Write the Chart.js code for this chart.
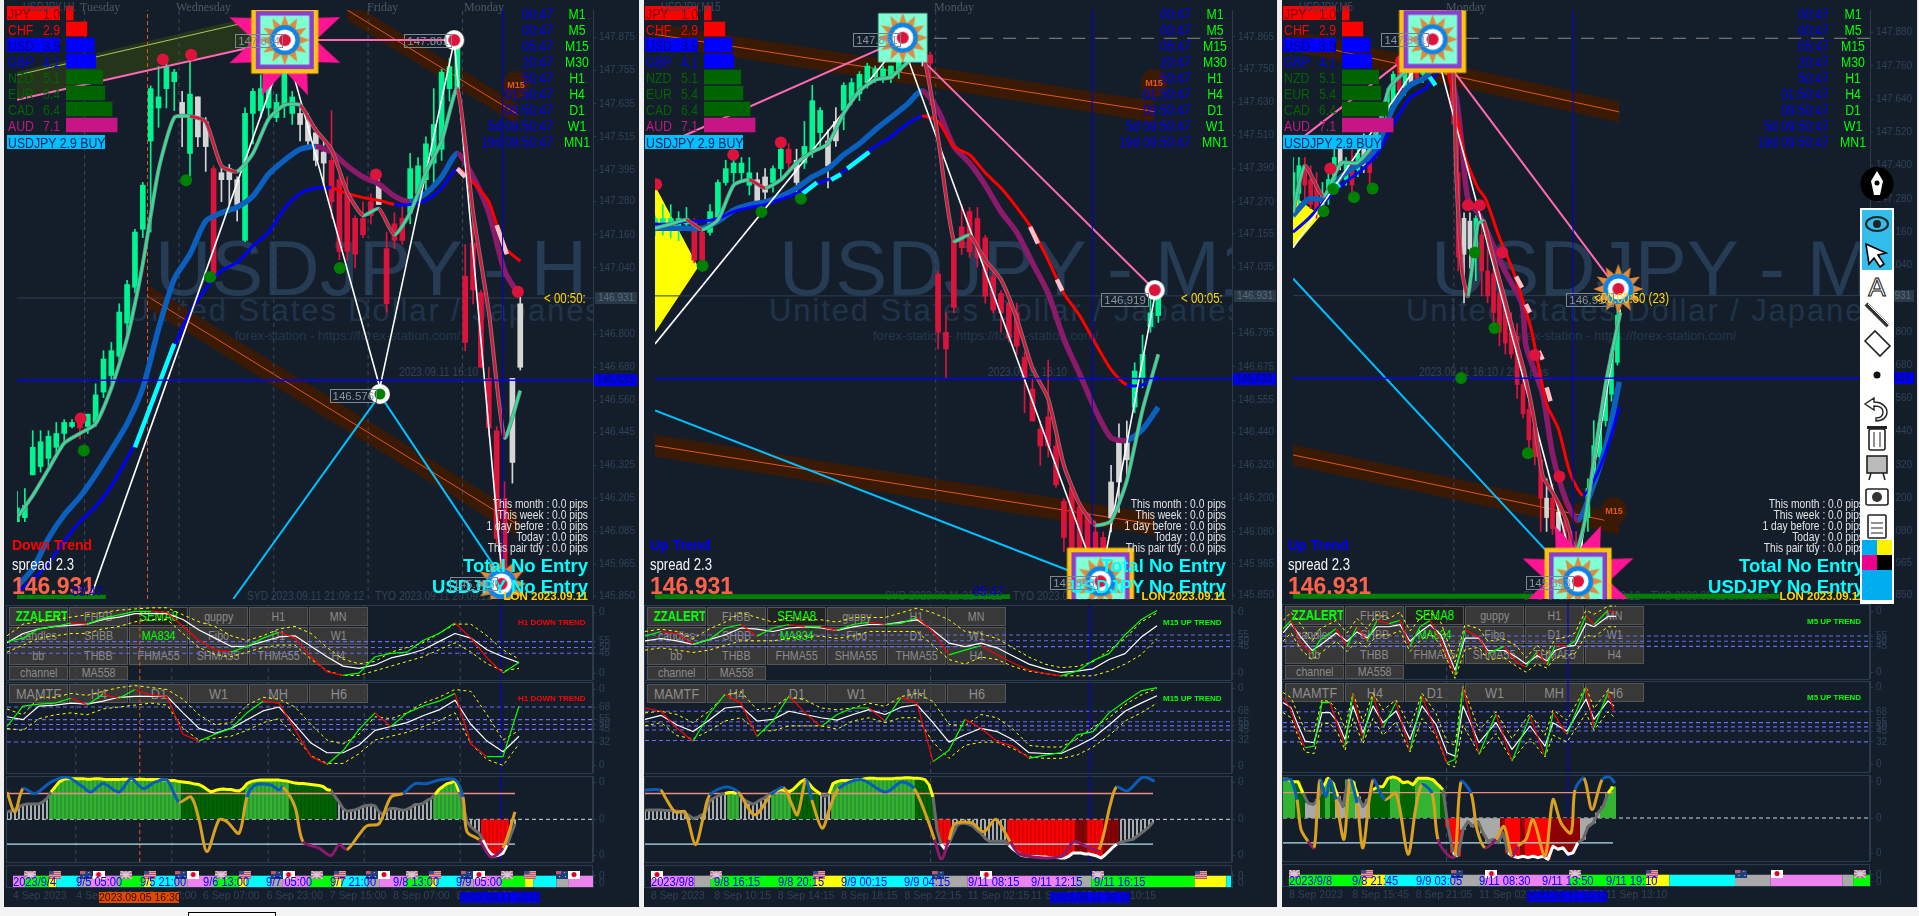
<!DOCTYPE html>
<html><head><meta charset="utf-8">
<style>
html,body{margin:0;padding:0;background:#f0f0f0;overflow:hidden}
#page{position:absolute;left:0;top:0;width:1919px;height:916px;overflow:hidden;font-family:"Liberation Sans",Arial,sans-serif;background:#f0f0f0}
.win{position:absolute;background:#141e2b;top:0;height:907px}
.abs{position:absolute;white-space:nowrap}
canvas{position:absolute}
.btn{position:absolute;box-sizing:border-box;background:#383838;border:1px solid #555;color:#8c8c8c;text-align:center;overflow:hidden;white-space:nowrap}
.btn span{display:inline-block;transform:scaleX(.82)}
.panel{position:absolute;box-sizing:border-box;border:1px solid #2a3b4e}
</style></head><body><div id="page"></div>
<script src="https://cdn.jsdelivr.net/npm/chart.js@4"></script>
<script>
// ---------- shared value lists ----------
const currencies=['JPY','CHF','USD','GBP','NZD','EUR','CAD','AUD'];
const strengths=[1.0,2.9,3.9,4.1,5.1,5.4,6.4,7.1];
const timerLabels=['M1','M5','M15','M30','H1','H4','D1','W1','MN1'];
const timerValues=['00:47','00:47','05:47','20:47','50:47','01:50:47','09:50:47','5d 09:50:47','19d 09:50:47'];
const statLines=['This month : 0.0 pips','This week : 0.0 pips','1 day before : 0.0 pips','Today : 0.0 pips','This pair tdy : 0.0 pips'];
const buttonsA=[['ZZALERT','FHBB','SEMA8','guppy','H1','MN'],['candles','SHBB','MA834','Fibo','D1','W1'],['bb','THBB','FHMA55','SHMA55','THMA55','H4'],['channel','MA558']];
const buttonsB=['MAMTF','H4','D1','W1','MH','H6'];

// ---------- H1 window ----------
const w1Ticks=[147.875,147.755,147.635,147.515,147.395,147.280,147.160,147.040,146.800,146.680,146.560,146.445,146.325,146.205,146.085,145.965,145.850];
const w1Top=[146.17,146.18,146.39,146.41,146.43,146.44,146.48,146.48,146.48,146.51,146.58,146.71,146.74,146.88,146.98,147.17,147.34,147.69,147.66,147.77,147.75,147.64,147.67,147.66,147.57,147.40,147.385,147.40,147.36,147.60,147.68,147.69,147.73,147.64,147.77,147.66,147.60,147.57,147.53,147.46,147.43,147.36,147.31,147.22,147.22,147.28,147.34,147.11,147.20,147.22,147.40,147.41,147.49,147.56,147.75,147.77,147.85,147.01,147.13,146.95,146.64,146.45,146.205,146.64,146.91];
const w1Bot=[146.12,146.135,146.29,146.32,146.35,146.39,146.44,146.465,146.46,146.465,146.48,146.59,146.65,146.72,146.84,146.97,147.18,147.50,147.62,147.69,147.715,147.585,147.455,147.515,147.48,147.02,147.36,147.36,147.27,147.14,147.60,147.61,147.62,147.585,147.63,147.60,147.56,147.50,147.43,147.42,147.28,147.10,147.10,147.09,147.16,147.23,147.27,146.91,147.14,147.14,147.24,147.31,147.36,147.42,147.47,147.69,147.69,146.77,146.96,146.68,146.46,146.06,145.875,146.335,146.68];
const w1High=[146.23,146.24,146.45,146.45,146.45,146.48,146.49,146.49,146.50,146.51,146.62,146.74,146.77,146.91,146.995,147.18,147.35,147.70,147.77,147.80,147.76,147.68,147.81,147.66,147.585,147.41,147.41,147.415,147.37,147.62,147.69,147.74,147.75,147.67,147.87,147.68,147.62,147.60,147.55,147.50,147.61,147.385,147.37,147.23,147.28,147.31,147.385,147.17,147.24,147.27,147.455,147.44,147.515,147.69,147.76,147.80,147.86,147.125,147.24,146.96,146.68,146.465,146.265,146.64,146.96];
const w1Low=[146.12,146.12,146.29,146.30,146.32,146.37,146.41,146.46,146.42,146.44,146.465,146.57,146.62,146.69,146.795,146.95,147.15,147.17,147.55,147.62,147.61,147.48,147.36,147.48,147.39,147.01,147.28,147.27,147.21,147.135,147.49,147.585,147.57,147.57,147.585,147.56,147.50,147.47,147.41,147.34,147.22,147.07,147.07,147.04,147.15,147.20,147.27,146.88,147.11,147.125,147.20,147.27,147.31,147.35,147.43,147.645,147.67,146.74,146.91,146.68,146.43,146.04,145.85,146.26,146.67];
const w1Kind='ggggggggrggggggggggggwgwwrwwwgggggggwwwwrrrrrrwrrrgggggggrrrrrrww';
const w1Fast=[146.135,146.215,146.31,146.405,146.44,146.475,146.605,146.785,147.055,147.395,147.585,147.59,147.57,147.41,147.39,147.455,147.58,147.63,147.63,147.54,147.47,147.315,147.23,147.255,147.16,147.24,147.385,147.50,147.69,147.24,146.88,146.425,146.595];
const w1Slow=[145.885,145.95,146.06,146.145,146.21,146.29,146.38,146.475,146.605,146.82,147.0,147.09,147.21,147.24,147.26,147.30,147.38,147.43,147.47,147.48,147.46,147.41,147.37,147.345,147.30,147.28,147.31,147.37,147.455,147.37,147.24,147.03,146.935];
const w1Mid=[145.865,145.91,145.97,146.05,146.12,146.175,146.25,146.35,146.46,146.605,146.755,146.88,146.965,147.03,147.06,147.12,147.17,147.255,147.31,147.33,147.33,147.31,147.295,147.285,147.27,147.27,147.285,147.33,147.40,147.35,147.28,147.115,147.065];
const w1CyanX=[30,40],w1CyanY=[146.39,146.765];
const w1PinkX=[112,114,null,122,124.6],w1PinkY=[147.40,147.37,null,147.195,147.09];
const w1WhiteX=[18.7,68.3,92.3,111.2,123.5],w1WhiteY=[145.845,147.845,146.606,147.863,145.90];
const w1BlueZigX=[55,92.3,123.2],w1BlueZigY=[145.84,146.58,145.92];
const w1PinkLineX=[0,59.6,68.1,111.2],w1PinkLineY=[147.65,147.84,147.866,147.866];
const w1BandX=[84,127.3],w1BandUp=[148.01,147.635],w1BandLo=[147.937,147.56],w1BandMid=[147.975,147.597];
const w1Band2X=[33.2,127.3],w1Band2Up=[146.978,146.152],w1Band2Lo=[146.895,146.069],w1Band2Mid=[146.937,146.11];
const w1OliveX=[0,60],w1OliveUp=[147.751,147.951],w1OliveLo=[147.65,147.845];
const w1OliveLineX=[0,72],w1OliveLineY=[147.739,147.975];
const w1Separators=[17.2,41.2,65.3,89.3,113.3];
const w1RedX=[37.1,44.3,91.3,127.4,16.2],w1RedY=[147.796,147.813,147.379,146.954,146.494];
const w1GreenX=[43,49.1,82.1,17],w1GreenY=[147.358,147.007,147.04,146.378];
const w1AllTargets=[[68.1,147.866,'full'],[123.2,145.895,'star'],[111.2,147.866,'ring'],[92.3,146.583,'ringG']];
const w1Tags=[['147.864',55.5,147.866],['147.861',98.5,147.866],['146.576',79.5,146.577],['145.893',110.2,145.895]];
const w1SigA=[55,58,66,68,71,70,75,78,81,81,80,68,56,48,46,51,58,63,58,42,29,26,28,42,45,46,56,62,71,58,41,28,37];
const w1WhiteA=[54,62,66,68,69,70,74,76,79,79,79,74,65,58,51,51,55,59,60,51,42,34,32,35,41,44,48,55,62,58,48,42,37];
const w1UpA=[60,70,72,74,76,78,80,82,83,84,84,78,72,68,60,56,60,66,68,62,50,40,36,38,46,50,54,62,70,70,60,48,40];
const w1LoA=[46,52,58,60,62,62,66,68,72,74,74,62,50,44,42,46,50,52,52,40,30,26,26,30,34,38,42,48,54,46,36,30,32];
const w1SigB=[48,69,71,72,77,70,81,77,86,80,79,40,33,40,46,62,74,72,45,17,9,23,45,62,48,62,69,74,82,30,17,17,69];
const w1WhiteB=[58,55,69,70,72,71,74,78,79,79,79,62,46,41,46,55,64,68,50,31,21,21,29,44,48,52,59,65,75,50,33,22,38];
const w1UpB=[66,60,78,78,82,80,84,88,90,88,86,76,60,50,52,70,78,76,68,50,34,30,40,58,56,62,72,78,86,84,60,34,44];
const w1LoB=[46,44,56,60,62,60,66,68,70,72,70,46,34,36,38,44,52,56,38,18,10,10,20,34,38,42,48,54,62,30,14,8,30];
const w1Hist=[15,17,20,25,29,31,31,31,31,35,42,55,65,75,80,82,82,82,82,82,81,81,82,82,81,80,80,80,80,81,81,80,80,81,81,80,80,80,80,79,79,78,78,76,75,74,73,71,70,66,60,55,58,60,61,60,60,58,57,62,72,76,78,79,79,79,79,79,79,78,77,75,73,72,72,71,70,69,68,66,60,58,46,35,22,16,18,19,22,26,28,29,27,15,10,18,22,22,20,18,20,24,30,30,32,38,42,50,60,66,72,74,78,55,30,-5,-15,-22,-28,-42,-60,-70,-74,-72,-68,-52,-30,-10];
const w1HistKinds='w11 l33 d16 l11 d12 w24 l8 w4 r7 w2';
const w1RsiX=[0,2,4,7,11,15,19,21,24,28,31,34,37,40,43,46,48,50,53,55,58,60,62,66,68,69,72,74,78,81,83,85,88,90,93,96,99,102,105,108,112,114,115,118,121,124,127];
const w1RsiY=[55,15,62,52,75,85,65,55,72,55,82,62,75,79,35,45,-1,-65,-1,-5,-28,45,69,69,59,65,25,-45,-58,-73,-51,-61,-31,-13,-9,45,52,72,72,79,80,45,-25,-41,-76,-58,15];
const w1SessionStarts=[0,3,9,11,16.6,19.7,26,27,33,35,41,44,50,51,57,59,65,68,74.5,75,81,83,89.5,92.5,99,99.3,105.5,107,113,116.3,122.5,123.5,129.3,131.4,137.3,140.4,146.5];
const w1SessionKinds='VGYCAVAGYCAVAGYCAVAGYCAVAGYCAVAGYCAV';
const w1FlagX=[4.4,10.5,18.5,21.6,28.5,34.6,42.5,45.5,52.6,58.6,66.6,69.6,76.7,82.6,90.6,93.7,100.7,106.6,114.6,117.7,124.8,130.7,138.7,141.7];
const w1FlagKinds='UNAJUNAJUNAJUNAJUNAJUNAJ';
const w1TimeBars=[0,16,32,48,64,80,96,112];
const w1TimeLabels=['4 Sep 2023','4 Sep 21:00','5 Sep 13:00','6 Sep 07:00','6 Sep 23:00','7 Sep 15:00','8 Sep 07:00','8 Sep 23:00'];
const w1SessionLabels=['2023/9/4','9/5 05:00','9/5 21:00','9/6 13:00','9/7 05:00','9/7 21:00','9/8 13:00','9/9 05:00'];

// ---------- M15 window ----------
const w2Ticks=[147.865,147.750,147.630,147.510,147.390,147.270,147.155,147.035,146.795,146.675,146.555,146.440,146.320,146.200,146.080,145.965,145.850];
const w2Top=[147.21,147.21,147.21,147.21,147.21,147.20,147.16,147.235,147.34,147.39,147.41,147.41,147.375,147.35,147.36,147.39,147.46,147.46,147.42,147.47,147.635,147.60,147.49,147.56,147.69,147.70,147.73,147.76,147.75,147.75,147.76,147.815,147.845,147.86,147.81,147.80,147.01,146.80,147.13,147.18,147.235,147.21,147.14,147.0,146.94,146.905,146.87,146.71,146.595,146.45,146.495,146.39,146.19,146.24,146.17,146.14,146.08,146.06,146.26,146.41,146.41,146.66,146.72,146.87,146.94];
const w2Bot=[147.175,147.18,147.18,147.175,147.19,147.06,147.06,147.16,147.21,147.34,147.375,147.375,147.33,147.27,147.305,147.34,147.39,147.41,147.34,147.41,147.45,147.52,147.40,147.49,147.60,147.635,147.66,147.70,147.72,147.71,147.715,147.74,147.81,147.81,147.79,147.77,146.80,146.74,146.89,147.105,147.09,147.07,146.93,146.88,146.87,146.78,146.75,146.635,146.48,146.39,146.39,146.25,146.06,146.01,145.93,145.98,145.94,145.97,146.13,146.26,146.34,146.53,146.635,146.82,146.86];
const w2High=[147.22,147.26,147.26,147.235,147.25,147.21,147.175,147.26,147.35,147.42,147.43,147.43,147.43,147.375,147.39,147.40,147.47,147.48,147.46,147.56,147.69,147.61,147.53,147.61,147.70,147.715,147.74,147.77,147.76,147.76,147.76,147.83,147.85,147.86,147.82,147.81,147.02,146.87,147.14,147.26,147.25,147.25,147.15,147.02,146.95,146.93,146.905,146.73,146.635,146.48,146.70,146.435,146.20,146.25,146.18,146.15,146.12,146.08,146.32,146.47,146.48,146.69,146.79,146.93,146.95];
const w2Low=[147.15,147.15,147.14,147.13,147.175,147.05,147.035,147.15,147.20,147.33,147.34,147.35,147.295,147.26,147.28,147.305,147.35,147.39,147.28,147.39,147.43,147.47,147.32,147.47,147.53,147.62,147.635,147.68,147.70,147.70,147.70,147.715,147.79,147.80,147.76,147.62,146.74,146.635,146.87,147.08,147.07,147.035,146.905,146.87,146.80,146.765,146.72,146.51,146.48,146.32,146.35,146.24,146.01,145.99,145.91,145.92,145.90,145.94,146.08,146.15,146.26,146.51,146.60,146.80,146.835];
const w2Kind='gggggrrggggggwwggrwgggwwggggggggggwrrrrrrrrrrrrrrrrrrrrrrrwwwgggg';
const w2Fast=[147.175,147.19,147.205,147.17,147.205,147.33,147.35,147.32,147.35,147.41,147.45,147.48,147.59,147.67,147.71,147.72,147.77,147.81,147.50,147.13,147.15,147.06,146.99,146.85,146.67,146.56,146.32,146.18,146.105,146.12,146.265,146.52,146.72];
const w2Slow=[147.175,147.175,147.175,147.175,147.20,147.24,147.26,147.27,147.29,147.32,147.36,147.39,147.44,147.48,147.53,147.575,147.62,147.67,147.60,147.47,147.41,147.33,147.235,147.16,147.05,146.94,146.775,146.65,146.52,146.42,146.41,146.45,146.53];
const w2Mid=[147.19,147.19,147.20,147.20,147.21,147.235,147.25,147.26,147.28,147.30,147.33,147.35,147.38,147.43,147.47,147.505,147.55,147.58,147.56,147.47,147.44,147.375,147.32,147.25,147.17,147.06,146.94,146.86,146.76,146.665,146.61,146.61,146.64];
const w2CyanX=[37.6,41.2,null,44.8,47.3,null,48.9,54.5],w2CyanY=[147.30,147.34,null,147.35,147.37,null,147.39,147.45];
const w2PinkX=[95.4,97.4,null,102.2,103.6],w2PinkY=[147.18,147.12,null,146.99,146.95];
const w2WhiteX=[0,62.7,113.1,127.4],w2WhiteY=[146.758,147.85,145.884,146.952];
const w2BlueZigX=[0,110.3],w2BlueZigY=[146.518,145.913];
const w2PinkLineX=[3.9,62.7,127.1],w2PinkLineY=[147.487,147.856,146.952];
const w2BandX=[0,127],w2BandUp=[147.912,147.633],w2BandLo=[147.836,147.558],w2BandMid=[147.874,147.596];
const w2Band2X=[0,127],w2Band2Up=[146.43,146.146],w2Band2Lo=[146.352,146.068],w2Band2Mid=[146.391,146.107];
const w2TriX=[0,11],w2TriUp=[147.328,147.035],w2TriLo=[146.80,147.035];
const w2Separators=[71.4];
const w2RedX=[0.3,19.9,32],w2RedY=[147.334,147.44,147.484];
const w2GreenX=[12.1,27.1,37.1],w2GreenY=[147.04,147.234,147.281];
const w2AllTargets=[[63,147.862,'aqua'],[113.3,145.902,'frame'],[127.1,146.952,'ring']];
const w2Tags=[['147.861',50.4,147.856],['146.919',113.5,146.917],['145.893',100.5,145.896]];
const w2SigA=[54,58,56,47,51,61,64,54,61,64,62,62,59,64,66,64,65,70,58,38,42,46,38,31,25,22,20,24,33,39,55,68,76];
const w2WhiteA=[50,52,50,47,51,55,61,60,58,61,62,61,59,62,64,64,66,68,59,48,45,48,44,37,30,26,23,24,26,34,39,53,63];
const w2UpA=[58,60,58,52,60,66,74,70,66,70,68,68,66,70,70,70,74,78,74,68,58,56,52,44,36,30,27,28,32,42,52,66,74];
const w2LoA=[42,44,42,40,42,46,50,50,50,52,54,54,52,54,58,58,58,58,46,34,30,36,34,28,24,22,20,20,20,24,30,38,52];
const w2SigB=[72,68,47,31,64,89,78,37,56,87,66,49,64,72,72,56,85,78,6,20,58,47,31,25,10,14,17,39,43,66,80,93,97];
const w2WhiteB=[58,63,51,43,57,72,74,56,58,68,64,60,57,64,70,64,73,76,54,30,39,47,43,33,17,16,16,25,35,51,68,78,87];
const w2UpB=[66,68,64,54,68,88,92,70,72,86,82,72,70,72,78,74,86,90,80,52,50,64,60,46,26,24,24,34,48,60,76,88,96];
const w2LoB=[50,54,38,34,44,56,60,44,44,50,50,50,46,56,60,54,60,60,30,10,26,30,30,22,12,10,10,14,24,38,56,66,78];
const w2Hist=[18,19,19,19,19,18,18,18,17,15,12,8,2,3,8,12,35,42,46,50,52,54,54,52,45,38,34,30,35,40,44,50,54,58,60,58,56,60,68,76,80,72,62,56,50,46,52,72,76,78,78,78,79,80,80,82,83,83,82,82,82,82,82,83,83,84,84,83,83,82,80,70,45,-20,-50,-60,-48,-30,-12,-8,-8,-10,-14,-22,-28,-38,-44,-44,-44,-44,-44,-52,-60,-66,-72,-74,-75,-75,-75,-76,-76,-77,-77,-77,-78,-78,-74,-68,-68,-68,-70,-70,-72,-74,-78,-72,-64,-56,-50,-46,-44,-42,-40,-34,-28,-22,-15,-6];
const w2HistKinds='w21 l3 w8 l5 d7 w3 l21 d5 r4 w14 r17 D3 r4 D4 w9';
const w2RsiX=[0,3.9,5,7.5,10,12.6,14.6,16.2,20.2,23.3,27.4,31.5,34.6,36.6,38.1,40.2,41.7,44.3,46.3,48.4,54,60.1,64.2,67.3,70.4,72.4,74.1,76,77.5,81.6,84.7,87.7,91.3,93.9,104.1,107.2,111.2,113.5,116.4,117.9,120.5,124.5,127.4];
const w2RsiY=[59,59,45,15,15,-51,5,49,65,55,9,49,64,32,9,79,39,-18,25,62,80,55,75,62,5,-41,-80,-41,-9,-7,-25,0,-45,-71,-75,-45,-58,-61,32,65,57,85,77];
const w2SessionStarts=[0,11,15.1,41.2,49.1,71.4,80,107.4,111.2,137.3,145.3,146.5];
const w2SessionKinds='VAGYCAVAGYC';
const w2FlagX=[1.5,16.5,42.5,72.6,84.7,112.8,138.9];
const w2FlagKinds='JUNAJUN';
const w2TimeBars=[0,16,32,48,64,80,96,112];
const w2TimeLabels=['8 Sep 2023','8 Sep 10:15','8 Sep 14:15','8 Sep 18:15','8 Sep 22:15','11 Sep 02:15','11 Sep 06:15','11 Sep 10:15'];
const w2SessionLabels=['2023/9/8','9/8 16:15','9/8 20:15','9/9 00:15','9/9 04:15','9/11 08:15','9/11 12:15','9/11 16:15'];

// ---------- M5 window ----------
const w3Ticks=[147.880,147.760,147.640,147.520,147.400,147.280,147.160,147.040,146.800,146.680,146.560,146.440,146.320,146.200,146.080,145.965,145.850];
const w3Top=[147.375,147.40,147.40,147.35,147.33,147.30,147.35,147.43,147.46,147.41,147.40,147.445,147.47,147.46,147.55,147.59,147.66,147.73,147.76,147.74,147.75,147.785,147.80,147.845,147.845,147.845,147.81,147.76,147.375,147.21,147.20,147.21,147.15,147.02,147.01,146.94,146.905,146.83,146.785,146.61,146.52,146.46,146.34,146.20,146.20,146.15,146.105,146.08,146.02,146.01,146.235,146.39,146.47,146.60,146.72,146.86];
const w3Bot=[147.26,147.30,147.33,147.26,147.23,147.26,147.29,147.33,147.40,147.35,147.33,147.385,147.40,147.375,147.46,147.53,147.56,147.63,147.67,147.68,147.70,147.715,147.73,147.76,147.785,147.77,147.76,147.61,147.07,147.08,147.10,147.07,147.02,146.93,146.87,146.80,146.76,146.72,146.61,146.505,146.41,146.35,146.20,146.13,146.09,146.08,146.01,145.965,145.895,145.94,146.13,146.27,146.35,146.48,146.575,146.69];
const w3High=[147.43,147.43,147.43,147.40,147.375,147.34,147.385,147.46,147.49,147.43,147.47,147.47,147.515,147.49,147.56,147.61,147.68,147.74,147.785,147.76,147.77,147.81,147.83,147.86,147.86,147.86,147.82,147.785,147.61,147.23,147.23,147.22,147.20,147.12,147.03,146.95,146.93,146.87,146.83,146.63,146.55,146.49,146.36,146.27,146.25,146.16,146.13,146.09,146.08,146.06,146.27,146.48,146.505,146.62,146.74,146.905];
const w3Low=[147.21,147.26,147.26,147.245,147.21,147.22,147.26,147.30,147.385,147.33,147.27,147.36,147.375,147.30,147.43,147.49,147.55,147.61,147.645,147.655,147.685,147.70,147.70,147.74,147.76,147.75,147.73,147.55,147.02,146.905,147.03,146.985,146.93,146.905,146.83,146.75,146.72,146.705,146.56,146.49,146.35,146.32,146.08,146.08,146.07,146.035,145.94,145.94,145.87,145.88,146.08,146.25,146.32,146.46,146.55,146.68];
const w3Kind='ggrrrgggwgrgwrggggrgwrgggrgrrwwgrrrrrrrrrrrwrwrrrwgggggg';
const w3FastX=[0,12,31,49,65,82,98,115,131,147,162,166,172,178,188,194,200,213,225,235,245,254,266,278,288,297,307,319,333];
const w3FastY=[147.23,147.40,147.29,147.41,147.41,147.48,147.68,147.74,147.75,147.845,147.79,147.375,147.02,146.93,147.19,147.20,147.12,146.95,146.79,146.66,146.49,146.28,146.21,146.12,146.01,146.12,146.36,146.63,146.87];
const w3SlowX=[0,16,33,49,65,82,102,119,135,153,166,172,178,190,205,217,233,237,254,264,278,290,303,319,332];
const w3SlowY=[147.22,147.28,147.28,147.36,147.40,147.445,147.61,147.69,147.72,147.80,147.645,147.47,147.28,147.22,147.10,147.01,146.90,146.75,146.575,146.36,146.19,146.12,146.22,146.40,146.62];
const w3MidX=[0,16,37,53,70,86,102,119,135,155,174,188,196,209,225,237,243,258,270,282,295,307,319,332];
const w3MidY=[147.16,147.21,147.29,147.34,147.385,147.445,147.55,147.645,147.68,147.76,147.445,147.32,147.28,147.15,147.01,146.875,146.80,146.54,146.45,146.29,146.21,146.27,146.375,146.53];
const w3CyanX=[139,145,null,43,47],w3CyanY=[147.72,147.69,null,147.34,147.32];
const w3PinkX=[227,233,null,237,241,null,250,254,null,258,262],w3PinkY=[147.0,146.96,null,146.90,146.87,null,146.73,146.70,null,146.60,146.55];
const w3WhiteX=[0,143,288,333],w3WhiteY=[147.104,147.85,145.917,146.881];
const w3BlueZigX=[0,288],w3BlueZigY=[146.993,145.894];
const w3PinkLineX=[4,139,331],w3PinkLineY=[147.486,147.856,146.95];
const w3BandX=[0,332],w3BandUp=[147.888,147.632],w3BandLo=[147.813,147.557],w3BandMid=[147.85,147.594];
const w3Band2X=[0,332],w3Band2Up=[146.393,146.146],w3Band2Lo=[146.318,146.07],w3Band2Mid=[146.356,146.109];
const w3TriX=[0,28],w3TriUp=[147.292,147.22],w3TriLo=[147.104,147.22];
const w3Separators=[163.6];
const w3RedX=[110,48,38,178,190,213,246,271],w3RedY=[147.778,147.49,147.39,147.257,147.257,147.087,146.717,146.278];
const w3GreenX=[41,62,81,31,185,205,171,239,264],w3GreenY=[147.316,147.286,147.318,147.236,147.087,146.814,146.634,146.362,145.976];
const w3AllTargets=[[142,147.856,'frame'],[290,145.90,'full'],[331,146.955,'star']];
const w3Tags=[['147.861',90,147.856],['146.919',278,146.916],['145.893',237,145.894]];
const w3XA=[0,8,18,29,37,53,64,74,84,94,106,117,127,137,147,158,172,182,196,205,221,233,243,254,264,272,284,292,303,311,325,333];
const w3SigA=[62,70,48,38,51,62,45,64,50,70,67,70,45,64,70,51,17,61,54,38,45,30,25,40,27,46,45,50,75,66,80,77];
const w3WhiteA=[58,67,54,41,46,58,50,59,53,64,64,66,50,59,66,56,22,53,53,41,41,35,28,36,31,41,45,46,67,64,74,74];
const w3UpA=[70,78,66,50,62,70,58,72,62,76,72,78,60,72,78,68,30,66,62,50,52,46,34,46,38,52,54,58,80,76,84,84];
const w3LoA=[50,58,42,32,38,50,40,50,44,56,56,60,40,50,58,46,14,42,44,32,34,26,20,28,24,34,36,38,56,54,64,64];
const w3XB=[0,8,14,22,31,39,47,55,62,70,80,90,100,113,127,139,153,164,172,180,196,213,229,247,262,270,284,303,311,325,331];
const w3SigB=[85,71,47,25,27,79,79,51,27,89,35,87,49,79,21,87,43,7,11,97,17,65,9,63,15,67,41,97,49,91,69];
const w3WhiteB=[79,73,55,33,31,67,67,55,35,75,43,75,55,69,35,75,53,19,15,75,31,55,23,51,27,55,45,83,59,81,75];
const w3UpB=[91,85,68,46,44,82,80,68,48,90,56,90,70,82,50,90,66,32,28,98,46,68,36,66,40,70,58,98,72,94,88];
const w3LoB=[67,61,42,20,18,54,54,42,22,60,30,60,40,56,20,60,40,6,2,52,18,42,10,36,14,40,32,66,46,68,62];
const w3Hist=[78,78,73,73,50,30,27,37,63,80,70,43,23,77,73,43,23,37,57,63,63,80,83,80,71,73,67,80,80,80,77,67,57,-17,-70,-77,-23,-7,-17,-7,-30,-47,-43,-50,-30,-70,-77,-80,-77,-80,-77,-80,-77,-83,-57,-63,-60,-73,-70,-50,-43,-17,-10,10,23,50,63];
const w3HistKinds='l3 d2 a3 d1 l1 d1 a2 l2 a3 d4 l2 d3 l5 d1 r3 a8 D1 r3 D1 r5 D6 a3 a1 l3';
const w3RsiX=[0,8,14,18,25,31,34,37,43,47,53,61,67,74,80,90,102,113,125,133,139,149,155,166,172,178,188,194,202,213,221,229,235,243,250,262,270,278,288,292,301,309,319,326,332];
const w3RsiY=[77,77,37,-23,-47,-60,10,77,43,77,37,-43,77,30,-60,77,37,50,-73,23,67,50,-43,-77,-77,73,50,-23,-60,-43,-17,-77,-57,-43,-3,-77,37,-10,-30,57,80,17,77,83,70];
const w3SessionStarts=[0,73.6,97.3,163.6,198,284,360.6,384.3,450.6,486.5,559,570,587];
const w3SessionKinds='GYCAVGYCAVAG';
const w3FlagX=[5,79,170,204.5,289,367,457,493,577];
const w3FlagKinds='UNAJUNAJU';
const w3TimeBars=[0,64,128,192,256,320];
const w3TimeLabels=['8 Sep 2023','8 Sep 15:45','8 Sep 21:05','11 Sep 02:30','11 Sep 07:50','11 Sep 13:10'];
const w3SessionLabels=['2023/9/8','9/8 21:45','9/9 03:05','9/11 08:30','9/11 13:50','9/11 19:10'];

// ---------- assembly ----------
Chart.defaults.animation=false;
const NARROW='"Liberation Sans",Arial';
Chart.defaults.font.family='"Liberation Sans",Arial,sans-serif';
const page=document.getElementById('page');
const DIM='#2f4257',MINT='#00f592',CRIM='#dc143c',GREY='#d6d6d6';
function el(parent,cls,css,text){const d=document.createElement('div');d.className=cls;d.style.cssText=css;if(text!=null)d.textContent=text;parent.appendChild(d);return d;}
function txt(parent,text,x,y,font,color,al,z){const sx=font.endsWith('Arial')?' scaleX(.82)':'';
  const tr=(al==='r'?'translate(-100%,-50%)':al==='c'?'translate(-50%,-50%)':'translateY(-50%)')+sx;
  const org=al==='r'?'100% 50%':al==='c'?'50% 50%':'0 50%';
  return el(parent,'abs',`left:${x}px;top:${y}px;font:${font};color:${color};transform:${tr};transform-origin:${org};z-index:${z||4}`,text);}
const pts=(xs,ys)=>xs.map((x,i)=>({x,y:ys[i]}));
const grid=(ys,step)=>ys.map((y,i)=>({x:i*step,y}));
const L=(data,color,width,extra)=>Object.assign({type:'line',data,borderColor:color,borderWidth:width,pointRadius:0,tension:0,fill:false,borderCapStyle:'butt',borderJoinStyle:'round'},extra||{});
const dir=(up,dn)=>({borderColor:c=>c.p1.parsed.y>=c.p0.parsed.y?up:dn});
const level=(hi,lo,a,b,c)=>({borderColor:s=>{const m=(s.p0.parsed.y+s.p1.parsed.y)/2;return m>hi?a:m<lo?c:b;}});
const runs=s=>s.split(' ').map(r=>r[0].repeat(+r.slice(1))).join('');
function setOrder(ds){ds.forEach((d,i)=>{d.order=1000-i;});return ds;}

function icon(size,draw){const c=document.createElement('canvas');c.width=c.height=size;const g=c.getContext('2d');g.translate(size/2,size/2);draw(g);return c;}
function burst(g,n,ro,ri,color,rot){g.fillStyle=color;g.beginPath();for(let i=0;i<n*2;i++){const r=i%2?ri:ro,a=(rot||0)+i*Math.PI/n;g.lineTo(r*Math.sin(a),-r*Math.cos(a));}g.closePath();g.fill();}
function disc(g,r,color){g.fillStyle=color;g.beginPath();g.arc(0,0,r,0,7);g.fill();}
function sq(g,s,color){g.fillStyle=color;g.fillRect(-s/2,-s/2,s,s);}
function rings(g,inner){disc(g,15,'#0a84e8');disc(g,10.5,'#ffffff');disc(g,6,inner||CRIM);}
const targetIcons={
 full:icon(130,g=>{burst(g,8,60,31,'#ff1493',0.39);sq(g,67,'#ffc20e');sq(g,58,'#8b3fd0');sq(g,49,'#80ffd4');burst(g,12,25,15,'#e08a3c');rings(g);}),
 frame:icon(130,g=>{sq(g,67,'#ffc20e');sq(g,58,'#8b3fd0');sq(g,49,'#80ffd4');burst(g,12,25,15,'#e08a3c');rings(g);}),
 aqua:icon(130,g=>{sq(g,49,'#80ffd4');burst(g,12,25,15,'#e08a3c');rings(g);}),
 star:icon(70,g=>{burst(g,12,25,15,'#e08a3c');rings(g);}),
 ring:icon(30,g=>{disc(g,10,'#ffffff');disc(g,6,CRIM);}),
 ringG:icon(30,g=>{disc(g,10,'#ffffff');disc(g,5.5,'#008000');})
};
function flagCanvas(k){const c=document.createElement('canvas');c.width=12;c.height=9;const g=c.getContext('2d');
 if(k==='J'){g.fillStyle='#fff';g.fillRect(0,0,12,9);g.fillStyle='#e00020';g.beginPath();g.arc(6,4.5,2.5,0,7);g.fill();}
 if(k==='N'){g.fillStyle='#d9aab0';g.fillRect(0,0,12,9);g.fillStyle='#c05068';for(let i=0;i<9;i+=2)g.fillRect(0,i,12,1);g.fillStyle='#3a4a8a';g.fillRect(0,0,5,4);}
 if(k==='U'){g.fillStyle='#b06a86';g.fillRect(0,0,12,9);g.strokeStyle='#d8c8d4';g.lineWidth=1.5;g.beginPath();g.moveTo(0,0);g.lineTo(12,9);g.moveTo(12,0);g.lineTo(0,9);g.moveTo(6,0);g.lineTo(6,9);g.moveTo(0,4.5);g.lineTo(12,4.5);g.stroke();}
 if(k==='A'){g.fillStyle='#1f3f7a';g.fillRect(0,0,12,9);g.fillStyle='#c05a70';g.fillRect(0,0,5,4);g.fillStyle='#dde';g.fillRect(8,2,1,1);g.fillRect(9,6,1,1);g.fillRect(3,6,1,1);}
 return c;}
const flags={J:flagCanvas('J'),N:flagCanvas('N'),U:flagCanvas('U'),A:flagCanvas('A')};
const SESS={V:'#ee82ee',G:'#00ff00',Y:'#ffff00',C:'#00ffff',A:'#a9a9a9'};
const HCOL={l:'#32b432',d:'#006400',r:'#ff0000',D:'#8b0000',a:'#a9a9a9'};

function baseOpts(w,ymin,ymax,ticks,labels,extraPad){return {responsive:false,animation:false,events:[],devicePixelRatio:1,
  layout:{padding:{left:0,right:0,top:0,bottom:extraPad||0}},
  plugins:{legend:{display:false},tooltip:{enabled:false},title:{display:false}},
  scales:{
   x:{type:'linear',min:0,max:w.xMax,display:false,offset:false},
   y:{type:'linear',position:'right',min:ymin,max:ymax,
      afterBuildTicks:s=>{s.ticks=ticks.map(v=>({value:v}));},
      afterFit:s=>{s.width=46;s.paddingTop=0;s.paddingBottom=0;},
      ticks:{color:DIM,font:{size:10},padding:3,autoSkip:false,callback:labels},
      border:{color:'#2a3b4e'},grid:{drawOnChartArea:false,color:'#2a3b4e',tickLength:3}}
  }};}
function makeChart(w,top,h,datasets,opts,extraH){const c=document.createElement('canvas');c.width=w.R-w.L+46;c.height=h+(extraH||0);
  c.style.cssText=`left:${w.L}px;top:${top}px;z-index:2;`;page.appendChild(c);
  return new Chart(c,{type:'line',data:{datasets:setOrder(datasets)},options:opts});}
function buttonEl(css,t){const b=el(page,'btn',css);const s=document.createElement('span');s.textContent=t;b.appendChild(s);return b;}

function buildWindow(w){
 const plotW=w.R-w.L, dy=w.dy;
 el(page,'win',`left:${w.frame[0]}px;width:${w.frame[1]-w.frame[0]}px`);
 // watermark layer under the chart
 const clip=el(page,'abs',`left:${w.L}px;top:0;width:${plotW}px;height:603px;overflow:hidden;z-index:1`);
 txt(clip,w.title,w.bigX,268,'78px "Liberation Sans"','#253c54','l',1);
 txt(clip,'United States Dollar / Japanese Yen',w.subX,311,'31px "Liberation Sans"','#203449','l',1).style.letterSpacing='1.9px';
 txt(clip,'forex-station - https://forex-station.com/',228,335,'13px "Liberation Sans"','#23374b','l',1);
 txt(clip,w.vlabel,w.vlabelX,372,'12.5px '+NARROW,'#2f4256','l',1);
 txt(clip,'SYD 2023.09.11 21:09:12',240,596,'12.5px '+NARROW,'#2f4256','l',1);
 txt(clip,'TYO 2023.09.11 20:09:12',368,596,'12.5px '+NARROW,'#2f4256','l',1);
 // panel frames and button layer
 [[605,75],[682,91],[776,86],[865,22]].forEach(p=>el(page,'panel',`left:${w.L-1}px;top:${p[0]+dy}px;width:${plotW+1}px;height:${p[1]+1}px;z-index:1`));
 buttonsA.forEach((row,r)=>row.forEach((t,c)=>{const y=[607,627,646,666][r]+dy,hh=[19,18,19,14][r];
   const green=(t==='ZZALERT'||t==='SEMA8'||t==='MA834');
   buttonEl(`left:${w.L+2+60*c}px;top:${y}px;width:59px;height:${hh}px;z-index:1;font:${t==='ZZALERT'?'bold ':''}${t==='ZZALERT'||t==='SEMA8'?14:13}px/${hh-2}px "Liberation Sans";color:${green?'#00ff00':'#8c8c8c'};${t==='SEMA8'?'background:#222;':''}`,t);
 }));
 buttonsB.forEach((t,c)=>buttonEl(`left:${w.L+2+60*c}px;top:${684+dy}px;width:59px;height:19px;z-index:1;font:15.5px/17px "Liberation Sans"`,t));

 // main price chart
 const last=w.xMax, ds=[];
 const span=[w.yMin,w.yMax];
 w.fills.forEach(f=>{ds.push(L(pts(f.x,f.up),f.color,0,{fill:'+1',backgroundColor:f.color}));ds.push(L(pts(f.x,f.lo),f.color,0));});
 w.thin.forEach(f=>ds.push(L(pts(f.x,f.y),f.color,1)));
 w.separators.forEach(v=>ds.push(L(pts([v,v],span),'#3a4a5c',1,{borderDash:[4,4]})));
 if(w.orangeV!=null)ds.push(L(pts([w.orangeV,w.orangeV],span),'#e0561a',1,{borderDash:[4,3]}));
 ds.push(L(pts([0,last],[146.931,146.931]),'#2c3e52',1));
 if(w.dashH)ds.push(L(pts(w.dashH,[147.86,147.86]),'#8a8a8a',1,{borderDash:[13,10]}));
 const kinds=w.kind.split(''),col=k=>k==='g'?MINT:k==='r'?CRIM:GREY;
 const cx=w.top.map((_,i)=>i*w.cStep);
 ds.push({type:'bar',grouped:false,data:cx.map((x,i)=>({x,y:[w.low[i],w.high[i]]})),backgroundColor:kinds.map(col),barThickness:1});
 ds.push({type:'bar',grouped:false,data:cx.map((x,i)=>({x,y:[w.bot[i],w.top[i]]})),backgroundColor:kinds.map(col),barThickness:w.cWidth});
 ds.push(L(w.slow,'#0a5fbf',5.5,{tension:.25,segment:dir('#0a5fbf','#8b1a6b')}));
 ds.push(L(w.mid,'#0000ff',3,{tension:.25,segment:dir('#0000ff','#ff0000')}));
 ds.push(L(pts(w.cyan[0],w.cyan[1]),'#00ffff',4.5,{spanGaps:false}));
 ds.push(L(pts(w.pink[0],w.pink[1]),'#ffc0cb',4.5,{spanGaps:false}));
 ds.push(L(pts(w.white[0],w.white[1]),'#ffffff',1.6));
 ds.push(L(pts(w.zig[0],w.zig[1]),'#00bfff',2));
 ds.push(L(pts(w.pinkL[0],w.pinkL[1]),'#ff69b4',2));
 ds.push(L(pts(w.progress,[145.846,145.846]),'#008000',5));
 ds.push(L(w.fast,'#808080',4,{tension:.2}));
 ds.push(L(w.fast,MINT,2.4,{tension:.2,segment:dir('#2fe09a',CRIM)}));
 ds.push(L(pts([0,last],[146.633,146.633]),'#0000ff',1.4));
 ds.push(L(pts([w.blueV,w.blueV],span),'#0000d8',1));
 ds.push(L(pts(w.redPts[0],w.redPts[1]),CRIM,0,{showLine:false,pointRadius:6,pointBackgroundColor:CRIM,pointBorderWidth:0}));
 ds.push(L(pts(w.greenPts[0],w.greenPts[1]),'#008000',0,{showLine:false,pointRadius:6,pointBackgroundColor:'#008000',pointBorderWidth:0}));
 w.targets.forEach(t=>ds.push(L([{x:t[0],y:t[1]}],'#fff',0,{showLine:false,pointRadius:10,pointStyle:targetIcons[t[2]]})));
 const main=makeChart(w,0,603,ds,baseOpts(w,w.yMin,w.yMax,w.ticks,v=>v.toFixed(3),6),6);

 // stochastic panels
 function stoch(top,h,range,ticks,labels,levels,s){const d=[];
   levels.forEach(v=>d.push(L(pts([0,last],[v,v]),'#6a6af2',1.1,{borderDash:[4,3]})));
   d.push(L(pts([w.blueV,w.blueV],range),'#0000d8',1));
   w.separators.forEach(v=>d.push(L(pts([v,v],range),'#3a4a5c',1,{borderDash:[4,4]})));
   if(w.orangeV!=null)d.push(L(pts([w.orangeV,w.orangeV],range),'#e0561a',1,{borderDash:[4,3]}));
   d.push(L(pts(s.x,s.up),'#ffff00',1,{borderDash:[3,3]}));
   d.push(L(pts(s.x,s.lo),'#ffff00',1,{borderDash:[3,3]}));
   d.push(L(pts(s.x,s.white),'#ffffff',1.2));
   d.push(L(pts(s.x,s.sig),'#00ff00',1.2,{segment:dir('#00ff00','#ff0000')}));
   const lm=new Map(ticks.map((v,i)=>[v,labels[i]]));
   makeChart(w,top+dy,h,d,baseOpts(w,range[1],range[0],ticks,v=>lm.get(v)));
 }
 stoch(605,75,w.rangeA,w.ticksA,['0','55','50','45','0'],[55,50,45],w.a);
 stoch(682,91,w.rangeB,w.ticksB,['0','68','55','50','45','32','0'],[68,55,50,45,32],w.b);

 // histogram panel
 const hk=runs(w.histKinds).split(''), hx=w.hist.map((_,i)=>i*w.hStep), c=[];
 c.push(L(pts([0,last],[0,0]),'#d8d8d8',1,{borderDash:[4,3]}));
 c.push(L(pts([w.blueV,w.blueV],w.rangeC),'#0000d8',1));
 w.separators.forEach(v=>c.push(L(pts([v,v],w.rangeC),'#3a4a5c',1,{borderDash:[4,4]})));
 if(w.orangeV!=null)c.push(L(pts([w.orangeV,w.orangeV],w.rangeC),'#e0561a',1,{borderDash:[4,3]}));
 c.push({type:'bar',grouped:false,data:hx.map((x,i)=>({x,y:hk[i]==='w'?w.hist[i]:null})),backgroundColor:'#c8c8c8',barThickness:1});
 c.push({type:'bar',grouped:false,data:hx.map((x,i)=>({x,y:hk[i]==='w'?null:w.hist[i]})),backgroundColor:hk.map(k=>HCOL[k]||'#888'),barThickness:w.hWidth});
 const hlast=hx[hx.length-1];
 c.push(L(pts([0,hlast],[w.hi,w.hi]),'#f08a80',1.3));
 c.push(L(pts([0,hlast],[w.lo,w.lo]),'#b5e0ee',1.3));
 c.push(L(pts(hx,w.hist),'#6b6b6b',3,{segment:level(w.hi,w.lo,'#ffff00','#6b6b6b','#ffffff')}));
 c.push(L(pts(w.rsi[0],w.rsi[1]),'#daa020',3,{tension:.3,segment:level(w.hi,w.lo,'#0a5cb8','#daa020','#8b1a6b')}));
 const lc=['0','0','0'];const lmc=new Map(w.ticksC.map((v,i)=>[v,lc[i]]));
 makeChart(w,776+dy,86,c,baseOpts(w,w.rangeC[1],w.rangeC[0],w.ticksC,v=>lmc.get(v)));

 // session strip with time axis
 const s=[];
 s.push(L(pts([w.blueV,w.blueV],[0,1]),'#0000d8',1));
 w.sessKinds.split('').forEach((k,i)=>s.push(L(pts([w.sessStarts[i],w.sessStarts[i+1]],[0.3,0.3]),SESS[k],13)));
 'UNAJ'.split('').forEach(k=>{const xs=w.flagX.filter((_,i)=>w.flagKinds[i]===k);
   s.push(L(xs.map(x=>({x,y:0.78})),'#fff',0,{showLine:false,pointRadius:6,pointStyle:flags[k]}));});
 const so=baseOpts(w,0,1,[0.69,0.26],()=> '0');
 so.scales.x={type:'linear',min:0,max:last,display:true,position:'bottom',offset:false,
   afterBuildTicks:a=>{a.ticks=w.timeBars.map(v=>({value:v}));},
   afterFit:a=>{a.height=18;a.paddingLeft=0;a.paddingRight=0;},
   ticks:{color:DIM,font:{size:10.5},autoSkip:false,maxRotation:0,align:'start',padding:1,callback:v=>w.timeLabels[w.timeBars.indexOf(v)]},
   border:{color:'#2a3b4e'},grid:{drawOnChartArea:false,color:'#2a3b4e',tickLength:2}};
 const sess=makeChart(w,865+dy,40,s,so);
 w.timeBars.forEach((b,i)=>txt(page,w.sessLabels[i],sess.scales.x.getPixelForValue(b)+w.L,881+dy,'13.5px '+NARROW,'#0000ff','l',3));

 // strength bars
 const sc=document.createElement('canvas');sc.width=72;sc.height=128;sc.style.cssText=`left:${w.L+59}px;top:5px;z-index:4`;page.appendChild(sc);
 const strColors=['#ff0000','#ff0000','#0000ff','#0000ff','#006400','#006400','#006400','#c71585'];
 new Chart(sc,{type:'bar',data:{labels:currencies,datasets:[{data:strengths,backgroundColor:strColors,barThickness:14}]},
   options:{indexAxis:'y',responsive:false,animation:false,events:[],devicePixelRatio:1,layout:{padding:0},plugins:{legend:{display:false},tooltip:{enabled:false}},
   scales:{x:{min:0,max:10,display:false},y:{display:false}}}});
 const textCol=['#7a0000','#ff0000','#00007a','#0000ff','#006400','#006400','#006400','#c71585'];
 currencies.forEach((cur,i)=>{const y=13+16*i;
   if(i===0)el(page,'abs',`left:${w.L}px;top:${y-7}px;width:53px;height:14px;background:#ff0000;z-index:3`);
   if(i===2)el(page,'abs',`left:${w.L}px;top:${y-7}px;width:53px;height:14px;background:#0000ff;z-index:3`);
   txt(page,cur,w.L+1,y,'15px '+NARROW,textCol[i],'l');
   txt(page,strengths[i].toFixed(1),w.L+53,y,'15px '+NARROW,textCol[i],'r');
 });
 el(page,'abs',`left:${w.L}px;top:135px;width:98px;height:14px;background:#00bfff;z-index:3`);
 txt(page,'USDJPY 2.9 BUY',w.L+1,142,'15px '+NARROW,'#00245e','l');
 txt(page,w.small,w.L+16,7,'12px '+NARROW,'#33475c','l');
 w.days.forEach(d=>txt(page,d[0],w.L+d[1],7,'12px "Liberation Serif"','#4a5865','l'));

 // timers
 timerLabels.forEach((t,i)=>{const y=13+16*i;
   txt(page,timerValues[i],w.L+546,y,'15px '+NARROW,'#0000ff','r');
   txt(page,t,w.L+570,y,'15px '+NARROW,'#00ff00','c');});
 // bottom-right stats
 statLines.forEach((t,i)=>txt(page,t,w.L+581,504+11*i,'12.5px '+NARROW,'#e2e2e2','r'));
 txt(page,'Total No Entry',w.L+581,566,'bold 18.5px "Liberation Sans"','#00ffff','r');
 txt(page,'USDJPY No Entry',w.L+581,587,'bold 18.5px "Liberation Sans"','#00ffff','r');
 txt(page,w.lon,w.L+581,596,'bold 11.5px "Liberation Sans"','#ffd700','r',5);
 // bottom-left
 txt(page,w.trend,w.L+5,545,'bold 14px "Liberation Sans"',w.trendColor,'l');
 txt(page,'spread 2.3',w.L+5,565,'16px '+NARROW,'#f4f4f4','l');
 txt(page,'146.931',w.L+5,586,'bold 23px "Liberation Sans"','#ff6347','l');
 // misc
 const yPix=v=>main.scales.y.getPixelForValue(v), xPix=v=>main.scales.x.getPixelForValue(v)+w.L;
 w.tags.forEach(t=>{el(page,'abs',`left:${xPix(t[1])}px;top:${yPix(t[2])-6.5}px;height:12px;padding:0 2px;border:1px solid #7a8794;color:#8a95a0;font:11.5px/12px "Liberation Sans";z-index:4`,t[0]);});
 // M15 badge
 if(w.badge){el(page,'abs',`left:${w.L+w.badge[0]-13}px;top:${w.badge[1]-14}px;width:26px;height:28px;border-radius:50%;background:#3a1a05;z-index:3`);
   txt(page,'M15',w.L+w.badge[0],w.badge[1],'bold 9px "Liberation Sans"','#e0561a','c');}
 // last price and cross-hair labels
 const gy=yPix(146.931);
 el(page,'abs',`left:${w.R+2}px;top:${gy-6}px;width:42px;height:12px;background:#2a3948;color:#5b6b7b;font:10px/12px "Liberation Sans";text-align:center;z-index:3`,'146.931');
 const by=yPix(146.633);
 el(page,'abs',`left:${w.R+1}px;top:${by-6}px;width:43px;height:12px;background:#0000ee;color:#000c66;font:10px/12px "Liberation Sans";text-align:center;z-index:3`,'146.633');
 txt(page,w.countdown,w.L+w.cdX,298,'14px '+NARROW,'#ffd700','l',5);
 if(w.stray)txt(page,w.stray[0],w.L+w.stray[1],590,'15px '+NARROW,'#0000cc','l');
 // trend labels inside panels
 txt(page,w.trendTag,w.L+w.trendTagX,622+dy,'bold 8px "Liberation Sans"',w.trendTagColor,'l');
 txt(page,w.trendTag,w.L+w.trendTagX,698+dy,'bold 8px "Liberation Sans"',w.trendTagColor,'l');
 // crosshair time tags
 w.timeTags.forEach(t=>{el(page,'abs',`left:${t[0]}px;top:${892+dy}px;width:80px;height:11px;background:${t[2]};color:${t[3]};font:10.5px/11px "Liberation Sans";text-align:center;z-index:4`,t[1]);});
}

const pZ=(a,b)=>[a,b];
buildWindow({L:7,R:593,frame:[4,639],dy:0,xMax:146.5,yMin:145.84,yMax:147.975,ticks:w1Ticks,title:'USDJPY - H1',bigX:148,subX:120,vlabel:'2023.09.11 16:10',vlabelX:392,small:'USDJPY,H1',
 days:[['Tuesday',73],['Wednesday',169],['Friday',360],['Monday',457]],
 top:w1Top,bot:w1Bot,high:w1High,low:w1Low,kind:w1Kind,cStep:2,cWidth:5,
 fast:grid(w1Fast,4),slow:grid(w1Slow,4),mid:grid(w1Mid,4),cyan:pZ(w1CyanX,w1CyanY),pink:pZ(w1PinkX,w1PinkY),white:pZ(w1WhiteX,w1WhiteY),zig:pZ(w1BlueZigX,w1BlueZigY),pinkL:pZ(w1PinkLineX,w1PinkLineY),
 fills:[{x:w1OliveX,up:w1OliveUp,lo:w1OliveLo,color:'#25351b'},{x:w1BandX,up:w1BandUp,lo:w1BandLo,color:'#3a1a05'},{x:w1Band2X,up:w1Band2Up,lo:w1Band2Lo,color:'#3a1a05'}],
 thin:[{x:w1OliveLineX,y:w1OliveLineY,color:'#a8c860'},{x:w1BandX,y:w1BandMid,color:'#e0561a'},{x:w1Band2X,y:w1Band2Mid,color:'#e0561a'}],
 separators:w1Separators,orangeV:33.2,blueV:123.5,redPts:pZ(w1RedX,w1RedY),greenPts:pZ(w1GreenX,w1GreenY),targets:w1AllTargets,tags:w1Tags,progress:[0,22.6],
 rangeA:[22.1,86.4],ticksA:[80,55,50,45,28],rangeB:[0.2,93.7],ticksB:[86.5,68,55,50,45,32,8],rangeC:[-86,87.3],ticksC:[74,0,-73],
 a:{x:w1SigA.map((_,i)=>i*4),sig:w1SigA,white:w1WhiteA,up:w1UpA,lo:w1LoA},b:{x:w1SigB.map((_,i)=>i*4),sig:w1SigB,white:w1WhiteB,up:w1UpB,lo:w1LoB},
 hist:w1Hist,histKinds:w1HistKinds,hStep:1,hWidth:3,hi:52,lo:-50,rsi:pZ(w1RsiX,w1RsiY),
 sessStarts:w1SessionStarts,sessKinds:w1SessionKinds,flagX:w1FlagX,flagKinds:w1FlagKinds,timeBars:w1TimeBars,timeLabels:w1TimeLabels,sessLabels:w1SessionLabels,
 lon:'LON 2023.09.11',trend:'Down Trend',trendColor:'#ff0000',badge:[509,85],countdown:'< 00:50:',cdX:537,stray:['05:47',65],
 trendTag:'H1 DOWN TREND',trendTagX:511,trendTagColor:'#ff0000',
 timeTags:[[99,'2023.09.05 16:30','#e04a00','#2a1000'],[460,'2023.09.11 10:10','#0000ee','#000c66']]});

buildWindow({L:645,R:1232,frame:[644,1277],dy:0,xMax:146.75,yMin:145.838,yMax:147.962,ticks:w2Ticks,title:'USDJPY - M15',bigX:134,subX:124,vlabel:'2023.09.11 16:10',vlabelX:343,small:'USDJPY,M15',
 days:[['Monday',289]],
 top:w2Top,bot:w2Bot,high:w2High,low:w2Low,kind:w2Kind,cStep:2,cWidth:5,
 fast:grid(w2Fast,4),slow:grid(w2Slow,4),mid:grid(w2Mid,4),cyan:pZ(w2CyanX,w2CyanY),pink:pZ(w2PinkX,w2PinkY),white:pZ(w2WhiteX,w2WhiteY),zig:pZ(w2BlueZigX,w2BlueZigY),pinkL:pZ(w2PinkLineX,w2PinkLineY),
 fills:[{x:w2BandX,up:w2BandUp,lo:w2BandLo,color:'#3a1a05'},{x:w2Band2X,up:w2Band2Up,lo:w2Band2Lo,color:'#3a1a05'},{x:w2TriX,up:w2TriUp,lo:w2TriLo,color:'#ffff00'}],
 thin:[{x:w2BandX,y:w2BandMid,color:'#e0561a'},{x:w2Band2X,y:w2Band2Mid,color:'#e0561a'}],
 separators:w2Separators,orangeV:null,blueV:111.2,dashH:[71,146.75],redPts:pZ(w2RedX,w2RedY),greenPts:pZ(w2GreenX,w2GreenY),targets:w2AllTargets,tags:w2Tags,progress:[0,90.3],
 rangeA:[16.4,80.7],ticksA:[74.4,55,50,45,22],rangeB:[-8,104],ticksB:[95.7,68,55,50,45,32,0.6],rangeC:[-86,87.3],ticksC:[74,0,-73],
 a:{x:w2SigA.map((_,i)=>i*4),sig:w2SigA,white:w2WhiteA,up:w2UpA,lo:w2LoA},b:{x:w2SigB.map((_,i)=>i*4),sig:w2SigB,white:w2WhiteB,up:w2UpB,lo:w2LoB},
 hist:w2Hist,histKinds:w2HistKinds,hStep:1,hWidth:3,hi:52,lo:-50,rsi:pZ(w2RsiX,w2RsiY),
 sessStarts:w2SessionStarts,sessKinds:w2SessionKinds,flagX:w2FlagX,flagKinds:w2FlagKinds,timeBars:w2TimeBars,timeLabels:w2TimeLabels,sessLabels:w2SessionLabels,
 lon:'LON 2023.09.11',trend:'Up Trend',trendColor:'#0000ff',badge:[509,83],countdown:'< 00:05:',cdX:536,stray:['05:47',328],
 trendTag:'M15 UP TREND',trendTagX:518,trendTagColor:'#00ff00',
 timeTags:[[1050,'2023.09.11 10:10','#0000ee','#000c66']]});

buildWindow({L:1283,R:1870,frame:[1282,1917],dy:-1,xMax:587,yMin:145.836,yMax:147.962,ticks:w3Ticks,title:'USDJPY - M5',bigX:148,subX:123,vlabel:'2023.09.11 16:10 / 29.8 pips',vlabelX:136,small:'USDJPY,M5',
 days:[['Monday',163]],
 top:w3Top,bot:w3Bot,high:w3High,low:w3Low,kind:w3Kind,cStep:6,cWidth:4,
 fast:pts(w3FastX,w3FastY),slow:pts(w3SlowX,w3SlowY),mid:pts(w3MidX,w3MidY),cyan:pZ(w3CyanX,w3CyanY),pink:pZ(w3PinkX,w3PinkY),white:pZ(w3WhiteX,w3WhiteY),zig:pZ(w3BlueZigX,w3BlueZigY),pinkL:pZ(w3PinkLineX,w3PinkLineY),
 fills:[{x:w3BandX,up:w3BandUp,lo:w3BandLo,color:'#3a1a05'},{x:w3Band2X,up:w3Band2Up,lo:w3Band2Lo,color:'#3a1a05'},{x:w3TriX,up:w3TriUp,lo:w3TriLo,color:'#ffff00'}],
 thin:[{x:w3BandX,y:w3BandMid,color:'#e0561a'},{x:w3Band2X,y:w3Band2Mid,color:'#e0561a'}],
 separators:w3Separators,orangeV:null,blueV:285,dashH:[176,587],redPts:pZ(w3RedX,w3RedY),greenPts:pZ(w3GreenX,w3GreenY),targets:w3AllTargets,tags:w3Tags,progress:[0,495],
 rangeA:[13.4,86],ticksA:[78.5,55,50,45,19.5],rangeB:[-4,104.8],ticksB:[96.8,68,55,50,45,32,4.8],rangeC:[-86.7,86.7],ticksC:[73,0,-72],
 a:{x:w3XA,sig:w3SigA,white:w3WhiteA,up:w3UpA,lo:w3LoA},b:{x:w3XB,sig:w3SigB,white:w3WhiteB,up:w3UpB,lo:w3LoB},
 hist:w3Hist,histKinds:w3HistKinds,hStep:5,hWidth:5.4,hi:51.3,lo:-50,rsi:pZ(w3RsiX,w3RsiY),
 sessStarts:w3SessionStarts,sessKinds:w3SessionKinds,flagX:w3FlagX,flagKinds:w3FlagKinds,timeBars:w3TimeBars,timeLabels:w3TimeLabels,sessLabels:w3SessionLabels,
 lon:'LON 2023.09.11',trend:'Up Trend',trendColor:'#0000ff',badge:[331,511],countdown:'<00:00:50 (23)',cdX:311,
 trendTag:'M5 UP TREND',trendTagX:524,trendTagColor:'#00ff00',
 timeTags:[[1527,'2023.09.11 10:10','#0000ee','#000c66']]});

// bottom tab strip
el(page,'abs','left:0;top:907px;width:1919px;height:9px;background:#f4f4f4;z-index:6');
el(page,'abs','left:188px;top:912px;width:86px;height:6px;border:1px solid #000;background:#fff;z-index:6');

// drawing toolbar over the M5 window
const tb=document.createElement('div');
tb.style.cssText='position:absolute;left:1860px;top:166px;width:34px;height:440px;z-index:8';
tb.innerHTML=`<svg width="34" height="440" viewBox="0 0 34 440" xmlns="http://www.w3.org/2000/svg">
<ellipse cx="17" cy="18" rx="16.5" ry="17" fill="#000"/><path d="M17 5l6 10-3 14h-6l-3-14z" fill="#fff"/><circle cx="17" cy="17" r="2.5" fill="#000"/>
<rect x="0" y="42" width="34" height="396" fill="#fff"/><rect x="2" y="44" width="30" height="60" fill="#32bdea"/>
<ellipse cx="17" cy="58" rx="11" ry="7" fill="none" stroke="#222" stroke-width="2"/><circle cx="17" cy="58" r="4" fill="#222"/>
<path d="M6 78l20 9-8 2 6 9-4 3-6-9-5 6z" fill="#fff" stroke="#000" stroke-width="1.6"/>
<text x="17" y="130" text-anchor="middle" font-family="Liberation Sans" font-size="26" fill="#fff" stroke="#111" stroke-width="1">A</text>
<path d="M6 138l22 22" stroke="#333" stroke-width="4"/><path d="M8 138l22 22" stroke="#fff" stroke-width="1"/>
<path d="M5 175l10-10 15 15-10 10z" fill="#fff" stroke="#222" stroke-width="1.6"/>
<circle cx="17" cy="209" r="3.5" fill="#111"/>
<path d="M14 232l-9 6 9 6v-4c6 0 9 2 9 6s-3 6-7 6v3c7 0 11-4 11-9s-5-10-13-10z" fill="#fff" stroke="#222" stroke-width="1.4"/>
<rect x="9" y="263" width="16" height="21" rx="2" fill="#fff" stroke="#222" stroke-width="1.6"/><rect x="7" y="260" width="20" height="3" fill="#222"/><path d="M14 266v15M20 266v15" stroke="#222"/>
<rect x="7" y="290" width="20" height="17" fill="#bbb" stroke="#222" stroke-width="1.6"/><path d="M11 307l-2 7M23 307l2 7" stroke="#222" stroke-width="1.5"/>
<rect x="6" y="323" width="22" height="16" rx="2" fill="#fff" stroke="#222" stroke-width="1.6"/><circle cx="17" cy="331" r="5" fill="#333"/>
<rect x="8" y="349" width="18" height="23" rx="1" fill="#fff" stroke="#222" stroke-width="1.6"/><path d="M11 357h12M11 362h12M11 367h12" stroke="#222"/>
<rect x="2" y="374" width="15" height="15" fill="#00aeef"/><rect x="17" y="374" width="15" height="15" fill="#fff200"/>
<rect x="2" y="389" width="15" height="15" fill="#ec008c"/><rect x="17" y="389" width="15" height="15" fill="#000"/>
<rect x="2" y="404" width="30" height="30" fill="#00aeef"/></svg>`;
page.appendChild(tb);
</script></body></html>
